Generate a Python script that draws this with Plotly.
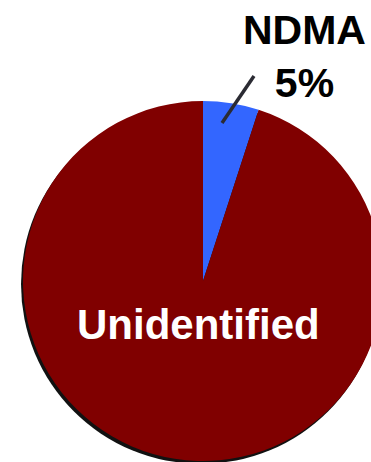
import plotly.graph_objects as go

# Share of total N-nitrosamines
labels = ["NDMA", "Unidentified"]
values = [5, 95]
colors = ["#3366FF", "#800000"]

W, H = 400, 480  # canvas is a little larger than the visible page; pie runs off the right edge


def px_x(p):
    return p / W


def px_y(p):
    return (H - p) / H


# pie placement in pixels: centre (203, 281), radius 180
cx, cy, r = 203, 281, 180
sdx, sdy = -2, 3  # drop-shadow offset

fig = go.Figure()

# drop shadow behind the pie
fig.add_trace(go.Pie(
    values=[sum(values)],
    labels=["shadow"],
    marker=dict(colors=["#111111"], line=dict(width=0)),
    textinfo="none",
    hoverinfo="skip",
    sort=False,
    showlegend=False,
    domain=dict(x=[px_x(cx - r + sdx), px_x(cx + r + sdx)],
                y=[px_y(cy + r + sdy), px_y(cy - r + sdy)]),
))

fig.add_trace(go.Pie(
    values=values,
    labels=labels,
    marker=dict(colors=colors, line=dict(width=0)),
    textinfo="none",
    sort=False,
    direction="clockwise",
    rotation=0,
    showlegend=False,
    domain=dict(x=[px_x(cx - r), px_x(cx + r)],
                y=[px_y(cy + r), px_y(cy - r)]),
))

font_family = "Arial, Liberation Sans, Helvetica, sans-serif"

# label for the small slice with leader line
fig.add_annotation(
    x=px_x(304), y=px_y(56), xref="paper", yref="paper",
    xanchor="center", yanchor="middle",
    text=f"<b>{labels[0]}<br>{values[0]}%</b>",
    showarrow=False,
    font=dict(family=font_family, size=41, color="#000000"),
    align="center",
)
fig.add_shape(
    type="line", xref="paper", yref="paper",
    x0=px_x(222), y0=px_y(123), x1=px_x(254), y1=px_y(76),
    line=dict(color="#2b2b33", width=3.5),
)

# label inside the large slice
fig.add_annotation(
    x=px_x(198), y=px_y(324), xref="paper", yref="paper",
    xanchor="center", yanchor="middle",
    text=f"<b>{labels[1]}</b>",
    showarrow=False,
    font=dict(family=font_family, size=42, color="#FFFFFF"),
)

fig.update_layout(
    width=W, height=H,
    margin=dict(l=0, r=0, t=0, b=0),
    paper_bgcolor="white",
    plot_bgcolor="white",
)

fig.write_html(
    "out.html",
    post_script="document.documentElement.style.overflow='hidden';document.body.style.overflow='hidden';",
)
